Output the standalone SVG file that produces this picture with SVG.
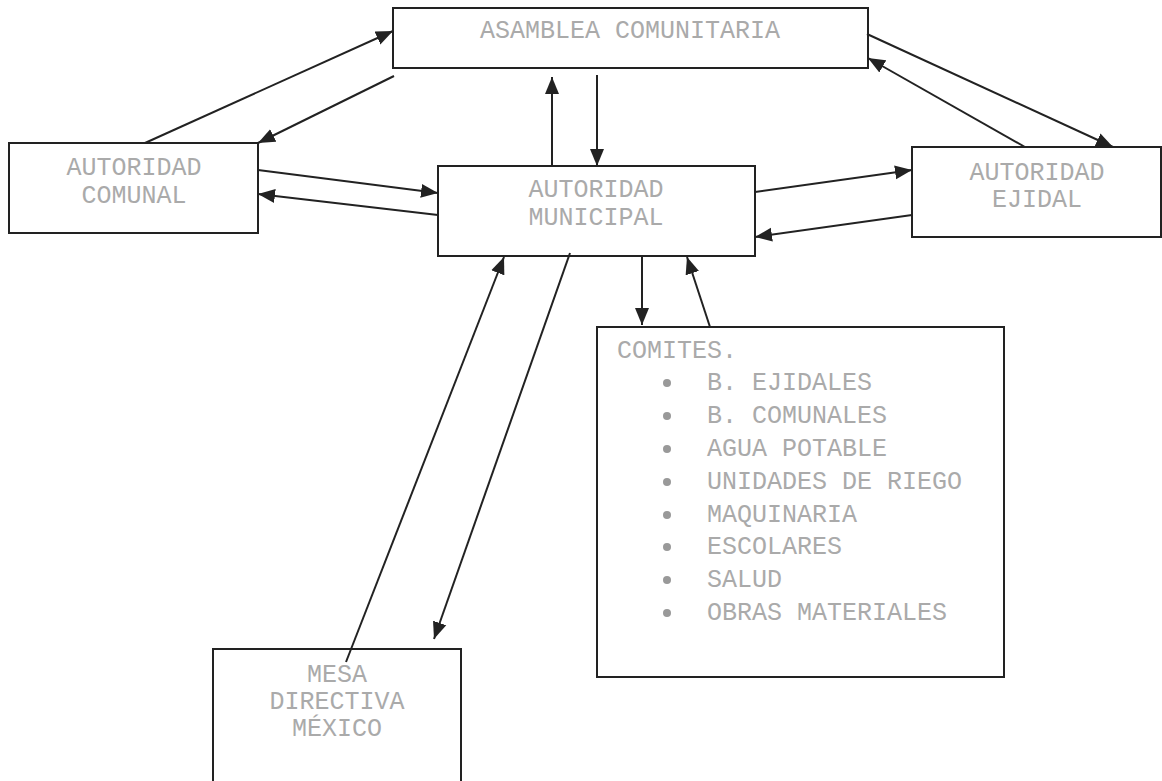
<svg xmlns="http://www.w3.org/2000/svg" width="1162" height="781" viewBox="0 0 1162 781">
<style>
.box{fill:#fff;stroke:#222;stroke-width:2}
.t{font-family:"Liberation Mono","Courier New",monospace;font-size:25px;fill:#aaa}
.c{text-anchor:middle}
.ln{stroke:#222;stroke-width:2;fill:none;marker-end:url(#ah)}
.b{fill:#999}
</style>
<defs>
<marker id="ah" markerUnits="userSpaceOnUse" markerWidth="18" markerHeight="15" refX="17" refY="7" orient="auto" viewBox="0 0 18 14">
<path d="M0,0 L17,7 L0,14 z" fill="#222"/>
</marker>
</defs>
<rect width="1162" height="781" fill="#fff"/>
<g id="asamblea">
<rect class="box" x="393" y="8" width="475" height="60"/>
<text class="t c" x="630" y="38">ASAMBLEA COMUNITARIA</text>
</g>
<g id="comunal">
<rect class="box" x="9" y="143" width="249" height="90"/>
<text class="t c" x="134" y="175">AUTORIDAD</text>
<text class="t c" x="134" y="203">COMUNAL</text>
</g>
<g id="municipal">
<rect class="box" x="438" y="166" width="317" height="90"/>
<text class="t c" x="596" y="197">AUTORIDAD</text>
<text class="t c" x="596" y="225">MUNICIPAL</text>
</g>
<g id="ejidal">
<rect class="box" x="912" y="147" width="249" height="90"/>
<text class="t c" x="1037" y="180">AUTORIDAD</text>
<text class="t c" x="1037" y="207">EJIDAL</text>
</g>
<g id="comites">
<rect class="box" x="597" y="327" width="407" height="350"/>
<text class="t" x="617" y="358">COMITES.</text>
<circle class="b" cx="667" cy="383" r="4"/><text class="t" x="707" y="390">B. EJIDALES</text>
<circle class="b" cx="667" cy="416" r="4"/><text class="t" x="707" y="423">B. COMUNALES</text>
<circle class="b" cx="667" cy="449" r="4"/><text class="t" x="707" y="456">AGUA POTABLE</text>
<circle class="b" cx="667" cy="482" r="4"/><text class="t" x="707" y="489">UNIDADES DE RIEGO</text>
<circle class="b" cx="667" cy="515" r="4"/><text class="t" x="707" y="522">MAQUINARIA</text>
<circle class="b" cx="667" cy="547" r="4"/><text class="t" x="707" y="554">ESCOLARES</text>
<circle class="b" cx="667" cy="580" r="4"/><text class="t" x="707" y="587">SALUD</text>
<circle class="b" cx="667" cy="613" r="4"/><text class="t" x="707" y="620">OBRAS MATERIALES</text>
</g>
<g id="mesa">
<rect class="box" x="213" y="649" width="248" height="150"/>
<text class="t c" x="337" y="682">MESA</text>
<text class="t c" x="337" y="709">DIRECTIVA</text>
<text class="t c" x="337" y="736">MÉXICO</text>
</g>
<g id="connectors">
<line class="ln" x1="145" y1="143" x2="393" y2="31"/>
<line class="ln" x1="394" y1="76" x2="258" y2="143"/>
<line class="ln" x1="258" y1="170" x2="438" y2="193"/>
<line class="ln" x1="438" y1="215" x2="258" y2="194"/>
<line class="ln" x1="552" y1="166" x2="552" y2="77"/>
<line class="ln" x1="597" y1="75" x2="597" y2="166"/>
<line class="ln" x1="755" y1="192" x2="912" y2="170"/>
<line class="ln" x1="912" y1="215" x2="755" y2="237"/>
<line class="ln" x1="867" y1="34" x2="1113" y2="147"/>
<line class="ln" x1="1025" y1="147" x2="868" y2="58"/>
<line class="ln" x1="642" y1="256" x2="642" y2="325"/>
<line class="ln" x1="710" y1="327" x2="687" y2="257"/>
<line class="ln" x1="346" y1="662" x2="504" y2="257"/>
<line class="ln" x1="570" y1="253" x2="434" y2="639"/>
</g>
</svg>
